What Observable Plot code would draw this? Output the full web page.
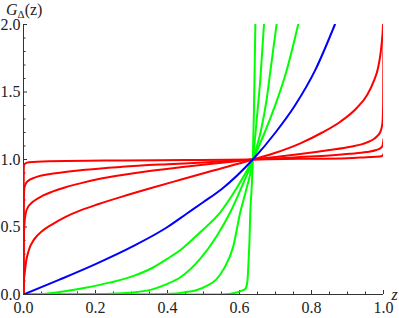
<!DOCTYPE html>
<html><head><meta charset="utf-8">
<script src="https://cdn.jsdelivr.net/npm/d3@7"></script>
<script src="https://cdn.jsdelivr.net/npm/@observablehq/plot@0.6"></script>
<style>
body{margin:0;background:#fff}
</style>
</head><body><div id="chart"></div>
<script>
// tick values
const xMajor = [0, 0.2, 0.4, 0.6, 0.8, 1.0];
const xMinor = [0.05, 0.1, 0.15, 0.25, 0.3, 0.35, 0.45, 0.5, 0.55, 0.65, 0.7, 0.75, 0.85, 0.9, 0.95];
const yMajor = [0, 0.5, 1.0, 1.5, 2.0];
const yMinor = [0.1, 0.2, 0.3, 0.4, 0.6, 0.7, 0.8, 0.9, 1.1, 1.2, 1.3, 1.4, 1.6, 1.7, 1.8, 1.9];

// red curves (A flattest ... D steepest)
const redA_z = [0, 0.0002, 0.0008, 0.002, 0.015, 0.07, 0.274, 0.45, 0.637, 0.769, 0.9, 0.953, 0.99, 0.998, 1.0];
const redA_g = [0, 0.6, 0.94, 0.965, 0.98, 0.987, 0.993, 0.996, 1.0, 1.005, 1.01, 1.017, 1.022, 1.03, 1.042];
const redB_z = [0, 0.0003, 0.001, 0.003, 0.01, 0.033, 0.089, 0.163, 0.274, 0.4, 0.5, 0.637, 0.7, 0.769, 0.85, 0.908, 0.953, 0.98, 0.992, 0.997, 1.0];
const redB_g = [0, 0.5, 0.72, 0.8, 0.835, 0.868, 0.898, 0.922, 0.946, 0.965, 0.978, 1.0, 1.008, 1.018, 1.03, 1.042, 1.055, 1.07, 1.085, 1.1, 1.15];
const redC_z = [0, 0.0005, 0.002, 0.006, 0.012, 0.019, 0.03, 0.052, 0.08, 0.117, 0.16, 0.209, 0.274, 0.35, 0.436, 0.53, 0.637, 0.7, 0.769, 0.85, 0.908, 0.953, 0.975, 0.985, 0.992, 0.997, 0.999, 1.0];
const redC_g = [0, 0.3, 0.5, 0.6, 0.645, 0.67, 0.695, 0.73, 0.762, 0.795, 0.825, 0.855, 0.885, 0.915, 0.943, 0.97, 1.0, 1.018, 1.04, 1.07, 1.095, 1.125, 1.155, 1.18, 1.21, 1.27, 1.4, 1.9];
const redD_z = [0, 0.001, 0.003, 0.007, 0.015, 0.03, 0.052, 0.08, 0.117, 0.16, 0.209, 0.274, 0.35, 0.436, 0.53, 0.637, 0.7, 0.769, 0.83, 0.88, 0.925, 0.955, 0.973, 0.985, 0.992, 0.997, 0.999];
const redD_g = [0, 0.1, 0.15, 0.24, 0.33, 0.41, 0.47, 0.52, 0.575, 0.625, 0.67, 0.725, 0.785, 0.85, 0.92, 1.0, 1.05, 1.12, 1.2, 1.28, 1.38, 1.48, 1.58, 1.68, 1.79, 1.92, 2.0];

// blue curve
const blue_z = [0, 0.1, 0.2, 0.306, 0.4, 0.454, 0.5, 0.55, 0.637, 0.7, 0.754, 0.81, 0.865];
const blue_g = [0, 0.11, 0.225, 0.36, 0.5, 0.6, 0.685, 0.78, 1.0, 1.2, 1.4, 1.66, 2.0];

// green curves (1 least steep ... 4 steepest)
const green1_z = [0, 0.05, 0.1, 0.168, 0.242, 0.306, 0.36, 0.398, 0.436, 0.49, 0.546, 0.59, 0.637, 0.67, 0.698, 0.73, 0.763];
const green1_g = [0, 0.003, 0.018, 0.048, 0.09, 0.138, 0.2, 0.262, 0.33, 0.46, 0.607, 0.78, 1.0, 1.2, 1.393, 1.65, 2.0];
const green2_z = [0, 0.15, 0.25, 0.306, 0.36, 0.398, 0.436, 0.49, 0.537, 0.574, 0.605, 0.637, 0.66, 0.675, 0.686, 0.703];
const green2_g = [0, 0.0005, 0.006, 0.015, 0.04, 0.077, 0.128, 0.262, 0.434, 0.607, 0.79, 1.0, 1.22, 1.437, 1.66, 2.0];
const green3_z = [0, 0.35, 0.41, 0.444, 0.48, 0.509, 0.535, 0.556, 0.583, 0.602, 0.62, 0.637, 0.648, 0.658, 0.668];
const green3_g = [0, 0.0005, 0.005, 0.015, 0.032, 0.064, 0.11, 0.188, 0.36, 0.607, 0.79, 1.0, 1.3, 1.6, 2.0];
const green4_z = [0, 0.55, 0.593, 0.608, 0.616, 0.622, 0.625, 0.628, 0.63, 0.634, 0.637, 0.64, 0.642, 0.644];
const green4_g = [0, 0.0005, 0.015, 0.03, 0.04, 0.1, 0.237, 0.42, 0.607, 0.8, 1.0, 1.35, 1.65, 2.0];

const series = [
  ["redA", redA_z, redA_g, "#ff0000"],
  ["redB", redB_z, redB_g, "#ff0000"],
  ["redC", redC_z, redC_g, "#ff0000"],
  ["redD", redD_z, redD_g, "#ff0000"],
  ["green1", green1_z, green1_g, "#00ff00"],
  ["green2", green2_z, green2_g, "#00ff00"],
  ["green3", green3_z, green3_g, "#00ff00"],
  ["green4", green4_z, green4_g, "#00ff00"],
  ["blue", blue_z, blue_g, "#0000ff"]
];

const FONT = "'Liberation Serif', 'DejaVu Serif', serif";
const FS = 16;
const axisColor = "#333";
const lineMarks = series.map(([name, zs, gs, color]) =>
  Plot.line(zs.map((z, i) => ({z, g: gs[i]})), {x: "z", y: "g", stroke: color, strokeWidth: 2, curve: "monotone-x", clip: true})
);

const chart = Plot.plot({
  width: 399,
  height: 318,
  marginLeft: 23,
  marginRight: 16,
  marginTop: 24,
  marginBottom: 24,
  style: {background: "#fff", color: "#222"},
  x: {domain: [0, 1], label: null},
  y: {domain: [0, 2], label: null},
  marks: [
    Plot.ruleY([0], {stroke: axisColor, strokeWidth: 1}),
    Plot.ruleX([0], {stroke: axisColor, strokeWidth: 1}),
    Plot.axisX({ticks: xMinor, tickSize: 2.5, dy: -2.5, tickFormat: () => "", stroke: axisColor, label: null}),
    Plot.axisX({ticks: xMajor, tickSize: 4, dy: -4, tickFormat: () => "", stroke: axisColor, label: null}),
    Plot.axisX({ticks: xMajor, tickSize: 0, tickPadding: 7, tickFormat: d => d.toFixed(1), label: null, fill: "#222", fontSize: FS, fontFamily: FONT}),
    Plot.axisY({ticks: yMinor, tickSize: 2.5, dx: 2.5, tickFormat: () => "", stroke: axisColor, label: null}),
    Plot.axisY({ticks: yMajor, tickSize: 4, dx: 4, tickFormat: () => "", stroke: axisColor, label: null}),
    Plot.axisY({ticks: yMajor, tickSize: 0, tickPadding: 3, tickFormat: d => d.toFixed(1), label: null, fill: "#222", fontSize: FS, fontFamily: FONT}),
    ...lineMarks,
    Plot.text(["z"], {frameAnchor: "bottom-right", dx: 11, dy: 0.5, lineAnchor: "middle", textAnchor: "middle", fontStyle: "italic", fontSize: FS, fontFamily: FONT, fill: "#222"})
  ]
});

const svg = d3.select(chart);
svg.attr("font-family", FONT).style("font-family", FONT);
const lbl = svg.append("text")
  .attr("x", 6).attr("y", 15)
  .attr("text-anchor", "start")
  .attr("fill", "#222")
  .attr("font-size", FS);
lbl.append("tspan").attr("font-style", "italic").text("G");
lbl.append("tspan").attr("font-size", 11).attr("dy", 3).text("Δ");
lbl.append("tspan").attr("dy", -3).text("(z)");
svg.selectAll("text, tspan, g").attr("font-family", FONT).style("font-family", FONT);

document.getElementById("chart").appendChild(chart);
</script>
</body></html>
